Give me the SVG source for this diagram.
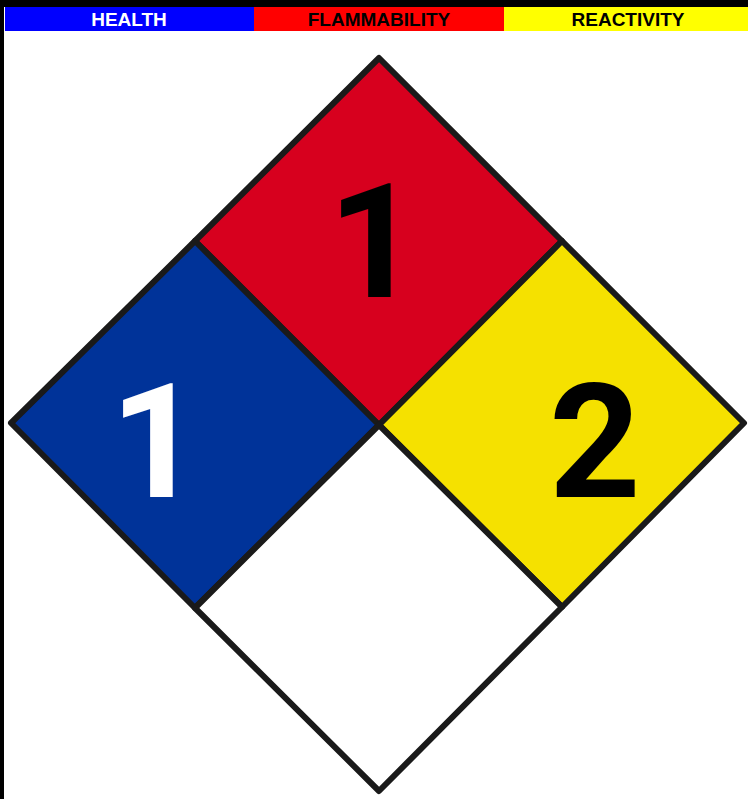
<svg xmlns="http://www.w3.org/2000/svg" width="748" height="799" viewBox="0 0 748 799">
<style>
.bar{font-family:"Liberation Sans",Arial,sans-serif;font-weight:bold;font-size:19px;text-anchor:middle}
.num{font-family:Roboto,"Liberation Sans",Arial,sans-serif;font-weight:bold;font-size:160px;text-anchor:middle}
.q{stroke:#1a1a1a;stroke-width:6;stroke-linejoin:round}
</style>
<rect x="0" y="0" width="748" height="799" fill="#ffffff"/>
<rect x="0" y="0" width="748" height="7" fill="#000000"/>
<rect x="0" y="0" width="4" height="799" fill="#000000"/>
<g id="legend">
<rect x="5" y="7" width="249" height="24" fill="#0000ff"/>
<rect x="254" y="7" width="250" height="24" fill="#ff0000"/>
<rect x="504" y="7" width="244" height="24" fill="#ffff00"/>
<text class="bar" x="129" y="26" fill="#ffffff">HEALTH</text>
<text class="bar" x="379" y="26" fill="#000000">FLAMMABILITY</text>
<text class="bar" x="628" y="26" fill="#000000">REACTIVITY</text>
</g>
<g id="flammability">
<polygon class="q" points="379,58 562,241 379,425 195,241" fill="#d7001e"/>
<text class="num" x="374" y="297" fill="#000000">1</text>
</g>
<g id="health">
<polygon class="q" points="195,241 379,425 195,608 11,423" fill="#003399"/>
<text class="num" x="156" y="497" fill="#ffffff">1</text>
</g>
<g id="reactivity">
<polygon class="q" points="562,241 744,423 562,607 379,425" fill="#f5e100"/>
<text class="num" x="595" y="497" fill="#000000">2</text>
</g>
<g id="special">
<polygon class="q" points="379,425 562,607 379,791 195,608" fill="#ffffff"/>
</g>
</svg>
